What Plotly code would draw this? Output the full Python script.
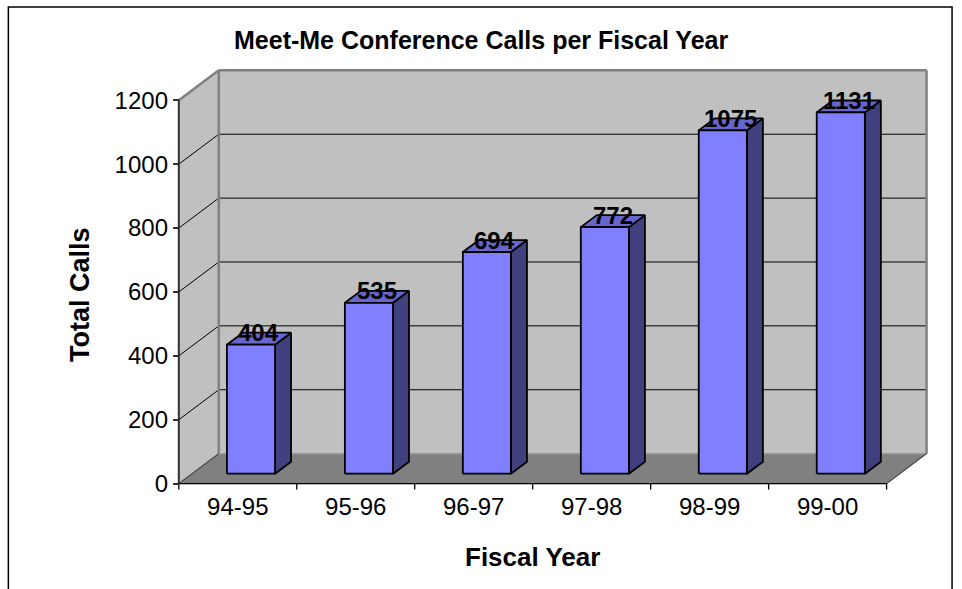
import plotly.graph_objects as go

# ---- data -------------------------------------------------------------
fiscal_years = ["94-95", "95-96", "96-97", "97-98", "98-99", "99-00"]
total_calls = [404, 535, 694, 772, 1075, 1131]
y_ticks = [0, 200, 400, 600, 800, 1000, 1200]

# ---- geometry of the oblique 3-D frame ---------------------------------
W, H = 962, 589
ORIGIN = (179.0, 483.5)          # pixel position of (x=0, y=0)
PX_PER_CAT = 118.0               # pixels per category slot
PX_PER_UNIT = 383.5 / 1200.0     # pixels per call
DEPTH_PX = (40.0, 30.0)          # oblique depth offset of the back wall
DX = DEPTH_PX[0] / PX_PER_CAT    # depth offset in category units
DY = DEPTH_PX[1] / PX_PER_UNIT   # depth offset in value units
Y_MAX = y_ticks[-1]
N = len(fiscal_years)

BAR_HALF = 0.204                 # half width of a column (category units)
BAR_FRONT, BAR_BACK = 0.33, 0.73 # depth fractions occupied by a column

X_RANGE = [-0.1, N + DX + 0.08]
Y_RANGE = [-20, 1320]

left = ORIGIN[0] - (0 - X_RANGE[0]) * PX_PER_CAT
right = ORIGIN[0] + X_RANGE[1] * PX_PER_CAT
bottom = ORIGIN[1] + (0 - Y_RANGE[0]) * PX_PER_UNIT
top = ORIGIN[1] - Y_RANGE[1] * PX_PER_UNIT


def px_to_paper(px, py):
    return (px - left) / (right - left), (bottom - py) / (bottom - top)


FONT = "Liberation Sans, Arial, sans-serif"
WALL = "#C0C0C0"
WALL_EDGE = "#808080"
FLOOR = "#808080"
FRONT = "#8080FF"
TOP = "#6666CC"
SIDE = "#40407F"

fig = go.Figure()


def poly(xs, ys, fill, edge, width):
    fig.add_trace(go.Scatter(
        x=list(xs) + [xs[0]], y=list(ys) + [ys[0]],
        mode="lines", fill="toself", fillcolor=fill,
        line=dict(color=edge, width=width),
        hoverinfo="skip", showlegend=False))


def lines(segments, color, width):
    xs, ys = [], []
    for (x0, y0), (x1, y1) in segments:
        xs += [x0, x1, None]
        ys += [y0, y1, None]
    fig.add_trace(go.Scatter(x=xs, y=ys, mode="lines",
                             line=dict(color=color, width=width),
                             hoverinfo="skip", showlegend=False))


# walls and floor
poly([0, 0, DX, DX], [0, Y_MAX, Y_MAX + DY, DY], WALL, WALL, 0.5)
poly([DX, DX, N + DX, N + DX], [DY, Y_MAX + DY, Y_MAX + DY, DY], WALL, WALL, 0.5)
poly([0, N, N + DX, DX], [0, 0, DY, DY], FLOOR, FLOOR, 0.5)

# gridlines on side wall and back wall
grid = []
for v in y_ticks[1:-1]:
    grid.append(((0, v), (DX, v + DY)))
    grid.append(((DX, v + DY), (N + DX, v + DY)))
lines(grid, "#000000", 1)

# wall edges
lines([((0, Y_MAX), (DX, Y_MAX + DY)),
       ((DX, Y_MAX + DY), (N + DX, Y_MAX + DY)),
       ((N + DX, Y_MAX + DY), (N + DX, DY)),
       ((DX, Y_MAX + DY), (DX, DY))], WALL_EDGE, 2.5)
lines([((DX, DY), (N + DX, DY))], "#999999", 1.5)
lines([((0, 0), (DX, DY)), ((N, 0), (N + DX, DY))], "#404040", 1.2)

# axis lines and category ticks
tick_len = 6 / PX_PER_UNIT
lines([((0, 0), (0, Y_MAX))], "#303030", 2)
lines([((0, 0), (N, 0))] + [((k, 0), (k, -tick_len)) for k in range(N + 1)],
      "#000000", 1.3)

# columns
for i, v in enumerate(total_calls):
    xl = i + 0.5 - BAR_HALF
    xr = i + 0.5 + BAR_HALF
    fx, fy = BAR_FRONT * DX, BAR_FRONT * DY
    bx, by = BAR_BACK * DX, BAR_BACK * DY
    poly([xr + fx, xr + fx, xr + bx, xr + bx],
         [fy, v + fy, v + by, by], SIDE, "#000000", 1.8)
    poly([xl + fx, xr + fx, xr + bx, xl + bx],
         [v + fy, v + fy, v + by, v + by], TOP, "#000000", 1.8)
    poly([xl + fx, xr + fx, xr + fx, xl + fx],
         [fy, fy, v + fy, v + fy], FRONT, "#000000", 1.8)
    mid = (BAR_FRONT + BAR_BACK) / 2
    fig.add_annotation(x=i + 0.5 + mid * DX, y=v + mid * DY,
                       text=f"<b>{v}</b>", showarrow=False,
                       xanchor="center", yanchor="middle", yshift=6,
                       font=dict(family=FONT, size=24, color="#000000"))

# titles
tx, ty = px_to_paper(481, 40)
fig.add_annotation(xref="paper", yref="paper", x=tx, y=ty,
                   text="<b>Meet-Me Conference Calls per Fiscal Year</b>",
                   showarrow=False, xanchor="center", yanchor="middle",
                   font=dict(family=FONT, size=25, color="#000000"))
ax, ay = px_to_paper(80, 294)
fig.add_annotation(xref="paper", yref="paper", x=ax, y=ay,
                   text="<b>Total Calls</b>", textangle=-90,
                   showarrow=False, xanchor="center", yanchor="middle",
                   font=dict(family=FONT, size=27, color="#000000"))
bx_, by_ = px_to_paper(533, 557)
fig.add_annotation(xref="paper", yref="paper", x=bx_, y=by_,
                   text="<b>Fiscal Year</b>",
                   showarrow=False, xanchor="center", yanchor="middle",
                   font=dict(family=FONT, size=26, color="#000000"))

# outer chart border
b0x, b0y = px_to_paper(8.5, 6.5)
b1x, b1y = px_to_paper(952.5, 620)
fig.add_shape(type="rect", xref="paper", yref="paper",
              x0=b0x, y0=b0y, x1=b1x, y1=b1y,
              line=dict(color="#000000", width=1.5), layer="above")

y_pos = (0 - X_RANGE[0]) / (X_RANGE[1] - X_RANGE[0])

fig.update_layout(
    width=W, height=H,
    margin=dict(l=left, r=W - right, t=top, b=H - bottom, pad=0,
                autoexpand=False),
    paper_bgcolor="#FFFFFF", plot_bgcolor="#FFFFFF",
    showlegend=False,
    xaxis=dict(range=X_RANGE, showgrid=False, zeroline=False, showline=False,
               tickmode="array", tickvals=[k + 0.5 for k in range(N)],
               ticktext=fiscal_years, ticks="",
               tickfont=dict(family=FONT, size=24, color="#000000"),
               fixedrange=True),
    yaxis=dict(range=Y_RANGE, showgrid=False, zeroline=False, showline=False,
               anchor="free", position=y_pos,
               tickmode="array", tickvals=y_ticks,
               ticks="outside", ticklen=6, tickcolor="#303030", tickwidth=1.5,
               tickfont=dict(family=FONT, size=24, color="#000000"),
               fixedrange=True),
)

fig.write_html("out.html")
